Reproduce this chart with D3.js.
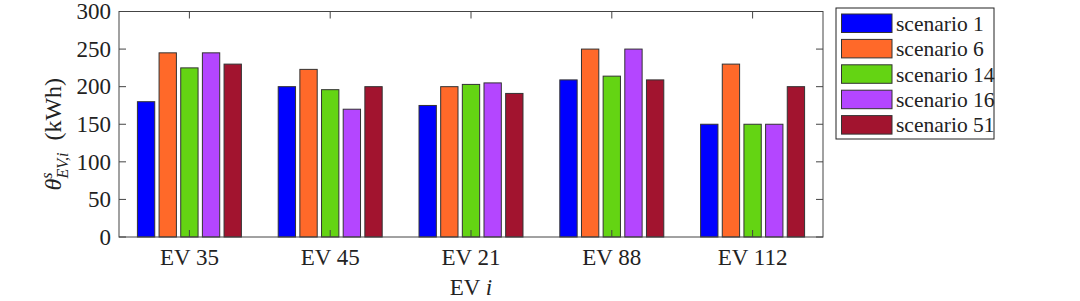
<!DOCTYPE html>
<html>
<head>
<meta charset="utf-8">
<script src="https://cdn.jsdelivr.net/npm/d3@7"></script>
<style>
  body { margin: 0; background: #fff; }
  svg { display: block; }
  text { font-family: "Liberation Serif", "DejaVu Serif", serif; fill: #222; }
</style>
</head>
<body>
<svg id="chart" width="1080" height="301"></svg>
<script>
// data
var evs = ["EV 35", "EV 45", "EV 21", "EV 88", "EV 112"]
var scenarios = ["scenario 1", "scenario 6", "scenario 14", "scenario 16", "scenario 51"]
var colors = ["#0000ff", "#ff6929", "#64d413", "#b446ff", "#a2142f"]
var s1  = [180, 200, 175, 209, 150]
var s6  = [245, 223, 200, 250, 230]
var s14 = [225, 196, 203, 214, 150]
var s16 = [245, 170, 205, 250, 150]
var s51 = [230, 200, 191, 209, 200]
var yTicks = [0, 50, 100, 150, 200, 250, 300]

var series = [s1, s6, s14, s16, s51]

var svg = d3.select("#chart")
var pLeft = 119, pRight = 823, pTop = 11.5, pBottom = 237
var axisColor = "#444"
var fs = "23px"

var x = d3.scaleBand().domain(evs).range([pLeft, pRight]).padding(0)
var groupW = x.bandwidth() * 5 / 6.5
var xs = d3.scaleBand().domain(d3.range(5))
  .range([(x.bandwidth() - groupW) / 2, (x.bandwidth() + groupW) / 2])
  .paddingInner(0.2).paddingOuter(0.1)
var y = d3.scaleLinear().domain([0, 300]).range([pBottom, pTop])

// bars
var rows = []
evs.forEach(function(ev, i){
  series.forEach(function(s, j){
    rows.push({ev: ev, j: j, v: s[i]})
  })
})
svg.append("g").selectAll("rect").data(rows).enter()
  .append("rect")
  .attr("x", d => x(d.ev) + xs(d.j))
  .attr("y", d => y(d.v))
  .attr("width", xs.bandwidth())
  .attr("height", d => y(0) - y(d.v))
  .attr("fill", d => colors[d.j])
  .attr("stroke", "#333")
  .attr("stroke-width", 1)

// axes box and inward ticks
var g = svg.append("g").attr("stroke", axisColor).attr("stroke-width", 1).attr("fill", "none")
g.append("rect").attr("x", pLeft).attr("y", pTop).attr("width", pRight - pLeft).attr("height", pBottom - pTop)
var tl = 7
yTicks.forEach(function(t){
  g.append("line").attr("x1", pLeft).attr("x2", pLeft + tl).attr("y1", y(t)).attr("y2", y(t))
  g.append("line").attr("x1", pRight).attr("x2", pRight - tl).attr("y1", y(t)).attr("y2", y(t))
})
evs.forEach(function(ev){
  var cx = x(ev) + x.bandwidth() / 2
  g.append("line").attr("x1", cx).attr("x2", cx).attr("y1", pBottom).attr("y2", pBottom - tl)
  g.append("line").attr("x1", cx).attr("x2", cx).attr("y1", pTop).attr("y2", pTop + tl)
})

// tick labels
svg.append("g").selectAll("text").data(yTicks).enter()
  .append("text")
  .attr("x", pLeft - 8)
  .attr("y", d => y(d))
  .attr("dy", "0.34em")
  .attr("text-anchor", "end")
  .style("font-size", fs)
  .text(d => d)

svg.append("g").selectAll("text").data(evs).enter()
  .append("text")
  .attr("x", d => x(d) + x.bandwidth() / 2)
  .attr("y", 265)
  .attr("text-anchor", "middle")
  .style("font-size", fs)
  .text(d => d)

// axis titles
var xl = svg.append("text")
  .attr("x", (pLeft + pRight) / 2)
  .attr("y", 295)
  .attr("text-anchor", "middle")
  .style("font-size", fs)
xl.append("tspan").text("EV ")
xl.append("tspan").style("font-style", "italic").text("i")

var yl = svg.append("text")
  .attr("transform", "translate(61," + ((pTop + pBottom) / 2 + 10) + ") rotate(-90)")
  .attr("text-anchor", "middle")
  .style("font-size", "24px")
yl.append("tspan").style("font-style", "italic").text("θ")
yl.append("tspan").style("font-style", "italic").style("font-size", "16px").attr("dy", -9).text("s")
yl.append("tspan").style("font-style", "italic").style("font-size", "16px").attr("dx", -6).attr("dy", 16).text("EV,i")
yl.append("tspan").attr("dy", -7).text("\u00a0\u00a0(kWh)")

// legend
var lg = svg.append("g")
lg.append("rect").attr("x", 836).attr("y", 8).attr("width", 158).attr("height", 131)
  .attr("fill", "#fff").attr("stroke", "#222").attr("stroke-width", 1)
var items = lg.selectAll("g.item").data(scenarios).enter()
  .append("g").attr("class", "item")
  .attr("transform", (d, i) => "translate(0," + (14 + i * 25.4) + ")")
items.append("rect")
  .attr("x", 841.5).attr("y", 0).attr("width", 50.5).attr("height", 18.5)
  .attr("fill", (d, i) => colors[i]).attr("stroke", "#333").attr("stroke-width", 1)
items.append("text")
  .attr("x", 896).attr("y", 9.5).attr("dy", "0.34em")
  .style("font-size", "21.5px")
  .text(d => d)
</script>
</body>
</html>
